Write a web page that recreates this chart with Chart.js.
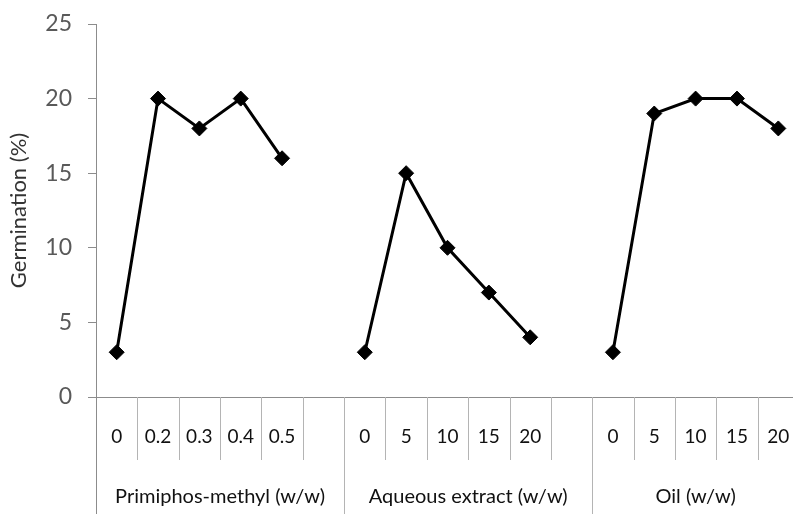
<!DOCTYPE html>
<html>
<head>
<meta charset="utf-8">
<script src="https://cdn.jsdelivr.net/npm/chart.js@4"></script>
<style>
  html, body { margin: 0; padding: 0; background: #fff; overflow: hidden; }
  #wrap { position: relative; width: 800px; height: 514px; }
</style>
</head>
<body>
<div id="wrap"><canvas id="c"></canvas></div>
<script>
// Dose levels along the x axis (blank slots separate the treatments)
const doseLabels = ['0', '0.2', '0.3', '0.4', '0.5', '',
                    '0', '5', '10', '15', '20', '',
                    '0', '5', '10', '15', '20'];
// Germination (%) at each dose; null leaves a gap between treatments
const germination = [3, 20, 18, 20, 16, null,
                     3, 15, 10, 7, 4, null,
                     3, 19, 20, 20, 18];
// Treatment groups shown on the second axis row
const groupNames = ['Primiphos-methyl (w/w)', 'Aqueous extract (w/w)', 'Oil (w/w)'];
const groupSizes = [6, 6, 5];
const yTicks = [0, 5, 10, 15, 20, 25];

const FONT = 'Lato, "Open Sans", sans-serif';
const AXIS_GREY = '#8c8c8c';
const SEP_GREY = '#b4b4b4';

// Draws the category separators and the treatment names beneath the dose labels
const groupAxis = {
  id: 'groupAxis',
  afterDraw(chart) {
    const ctx = chart.ctx;
    const x = chart.scales.x;
    const top = x.top;
    const bottom = chart.height;
    const half = (x.getPixelForValue(1) - x.getPixelForValue(0)) / 2;
    const edge = i => x.getPixelForValue(i) - half;
    ctx.save();
    ctx.strokeStyle = SEP_GREY;
    ctx.lineWidth = 1;
    let start = 0;
    groupSizes.forEach((n, g) => {
      // inner boundaries: short lines under the dose row
      for (let k = 1; k < n; k++) {
        const px = Math.round(edge(start + k)) + 0.5;
        ctx.beginPath();
        ctx.moveTo(px, top);
        ctx.lineTo(px, top + 63);
        ctx.stroke();
      }
      // group boundary: full-height line
      const gx = Math.round(edge(start + n)) + 0.5;
      ctx.beginPath();
      ctx.moveTo(gx, top);
      ctx.lineTo(gx, bottom);
      ctx.stroke();
      // group name centred under its categories
      const cx = (edge(start) + edge(start + n)) / 2;
      ctx.fillStyle = '#111';
      ctx.font = '20px ' + FONT;
      ctx.textAlign = 'center';
      ctx.textBaseline = 'middle';
      ctx.fillText(groupNames[g], cx, 497);
      start += n;
    });
    // y axis continues down through the category rows
    const ax = Math.round(chart.scales.y.right) + 0.5;
    ctx.strokeStyle = AXIS_GREY;
    ctx.beginPath();
    ctx.moveTo(ax, top);
    ctx.lineTo(ax, bottom);
    ctx.stroke();
    ctx.restore();
  }
};

new Chart(document.getElementById('c'), {
  type: 'line',
  data: {
    labels: doseLabels,
    datasets: [{
      data: germination,
      borderColor: '#000',
      backgroundColor: '#000',
      borderWidth: 3,
      pointStyle: 'rectRot',
      pointRadius: 7.5,
      pointBorderWidth: 1,
      spanGaps: false,
      tension: 0
    }]
  },
  options: {
    responsive: true,
    maintainAspectRatio: false,
    animation: false,
    layout: { autoPadding: false, padding: { top: 24, right: 1, left: 0, bottom: 0 } },
    plugins: { legend: { display: false }, tooltip: { enabled: false } },
    scales: {
      x: {
        type: 'category',
        offset: true,
        grid: { display: false, drawTicks: false },
        border: { display: true, color: AXIS_GREY, width: 1 },
        ticks: {
          autoSkip: false,
          maxRotation: 0,
          padding: 28,
          color: '#111',
          font: { family: FONT, size: 19 }
        },
        afterFit(s) {
          s.height = 117;
          s.paddingLeft = 0;
          s.paddingRight = 0;
        }
      },
      y: {
        min: 0,
        max: 25,
        afterBuildTicks(s) { s.ticks = yTicks.map(v => ({ value: v })); },
        grid: {
          drawOnChartArea: false,
          drawTicks: true,
          tickLength: 8,
          color: AXIS_GREY
        },
        border: { display: true, color: AXIS_GREY, width: 1 },
        ticks: {
          padding: 16,
          color: '#595959',
          font: { family: FONT, size: 23 }
        },
        title: {
          display: true,
          text: 'Germination (%)',
          color: '#333',
          font: { family: FONT, size: 22 },
          padding: { top: 6, bottom: 0 }
        },
        afterFit(s) {
          s.width = 96;
          s.paddingTop = 0;
          s.paddingBottom = 0;
        }
      }
    }
  },
  plugins: [groupAxis]
});
</script>
</body>
</html>
